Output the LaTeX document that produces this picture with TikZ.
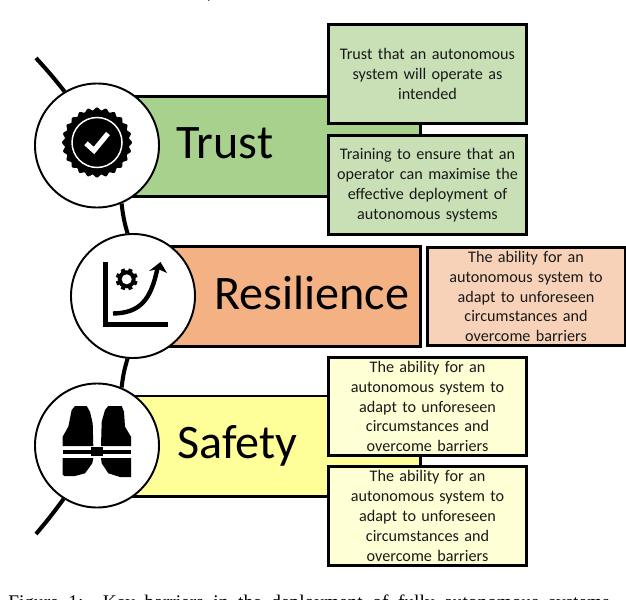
\documentclass[tikz,border=0pt]{standalone}
\usepackage{fontspec}
\setmainfont{Carlito}
\newfontfamily\capfont{Liberation Serif}
\definecolor{trustbar}{HTML}{A9D18E}
\definecolor{trustbox}{HTML}{C9E0B6}
\definecolor{resilbar}{HTML}{F4B183}
\definecolor{resilbox}{HTML}{F8D2B8}
\definecolor{safebar}{HTML}{FFFF99}
\definecolor{safebox}{HTML}{FFFFD5}
\tikzset{
  barnode/.style={draw,line width=1.7pt,minimum height=20mm,inner sep=0pt},
  barlabel/.style={anchor=base west,inner sep=0pt,font=\fontsize{27.4}{32}\selectfont},
  infobox/.style={draw,line width=1.7pt,minimum width=39.6mm,minimum height=19.7mm,
    inner sep=0pt,text width=38mm,align=center,text=black!90,
    font=\fontsize{9.2}{11.34}\selectfont},
  badge/.style={circle,draw,fill=white,line width=1.1pt,minimum size=24.8mm,inner sep=0pt},
  spine/.style={line width=2.3pt}
}
\begin{document}
\begin{tikzpicture}[x=0.2mm,y=-0.2mm]
\useasboundingbox (0,0) rectangle (626,600);
% bars
\node[barnode,fill=trustbar,minimum width=58mm] (trustbar) at (275,146.5) {};
\node[barnode,fill=resilbar,minimum width=51mm] (resilbar) at (292.5,296.5) {};
\node[barnode,fill=safebar,minimum width=58mm] (safebar) at (275,446) {};
\node[barlabel] (trustlabel) at (176,158) {Trust};
\node[barlabel] (resillabel) at (214,309) {Resilience};
\node[barlabel] (safelabel) at (177,458) {Safety};
% circles and the line through them
\node[badge] (trust) at (97,145.5) {};
\node[badge] (resil) at (133,296) {};
\node[badge] (safe) at (97,445.5) {};
\coordinate (topend) at (36,58);
\coordinate (botend) at (36,534);
\draw[spine] (topend) to[bend left=2] (trust.121);
\draw[spine] (trust.-67) to[bend right=5] (resil.95);
\draw[spine] (resil.-95) to[bend right=5] (safe.67);
\draw[spine] (safe.-122) to[bend left=2] (botend);
% text boxes
\node[infobox,fill=trustbox] (trustone) at (427.5,74) {Trust that an autonomous\\system will operate as\\intended};
\node[infobox,fill=trustbox] (trusttwo) at (427.5,185) {Training to ensure that an\\operator can maximise the\\effective deployment of\\autonomous systems};
\node[infobox,fill=resilbox] (resilone) at (526,296.5) {The ability for an\\autonomous system to\\adapt to unforeseen\\circumstances and\\overcome barriers};
\node[infobox,fill=safebox] (safeone) at (427.5,406.5) {The ability for an\\autonomous system to\\adapt to unforeseen\\circumstances and\\overcome barriers};
\node[infobox,fill=safebox] (safetwo) at (427.5,515.8) {The ability for an\\autonomous system to\\adapt to unforeseen\\circumstances and\\overcome barriers};
% seal
\fill plot[domain=0:360,samples=241,smooth] ({97+(33.7+1.3*cos(24*\x))*cos(\x)},{142.5+(33.7+1.3*cos(24*\x))*sin(\x)}) -- cycle;
\draw[white,line width=0.85pt] (97,142.5) circle [radius=5mm];
\draw[white,line width=2.9pt] (86,143.3) -- (94,150.5) -- (108,133.5);
% chart
\draw[line width=3pt] (105.7,262) -- (105.7,324.3) -- (168,324.3);
\draw[line width=2.5pt] (113,313.5) .. controls (140,313) and (151,300) .. (157.5,268);
\fill (160.5,262) -- (167,273) -- (158,269) -- (149,271) -- cycle;
\fill (126.7,279.3) circle [radius=1.8mm];
\foreach \ang in {22.5,67.5,...,337.5}
  \draw[line width=2.3pt] (126.7,279.3) -- ++(\ang:11);
\fill[white] (126.7,279.3) circle [radius=1mm];
% vest
\fill (62.7,446) -- (62.7,436.7) -- (68.3,426.7) -- (71.7,410) -- (75,406) -- (86.7,406) -- (90,411.7) -- (92.7,423.3) -- (93.3,446) -- cycle;
\fill (101,446) -- (101.7,421.7) -- (105,410) -- (108.3,406) -- (121.7,406) -- (124,411.7) -- (125,426.7) -- (131,436.7) -- (131,446) -- cycle;
\fill (62.7,458) -- (93.3,458) -- (92.3,463.3) -- (85,473.3) -- (75,476) -- (64.3,476) -- (62.7,474.5) -- cycle;
\fill (101,458) -- (131,458) -- (131,477) -- (120,477) -- (108.3,473.3) -- (101.7,463.3) -- cycle;
\fill (62.7,450) rectangle (131,454);
\fill (90.7,447) rectangle (103.3,456);
% caption and the line above the figure, cut by the page edges
\node[anchor=base west,inner sep=0pt,font=\capfont\fontsize{11}{13}\selectfont] (caption) at (8,608.5) {\spaceskip=0.5em Figure 1:\ \ Key barriers in the deployment of fully autonomous systems};
\node[anchor=base west,inner sep=0pt,font=\capfont\fontsize{11}{13}\selectfont] (topmark) at (207,-1) {,};
\end{tikzpicture}
\end{document}
